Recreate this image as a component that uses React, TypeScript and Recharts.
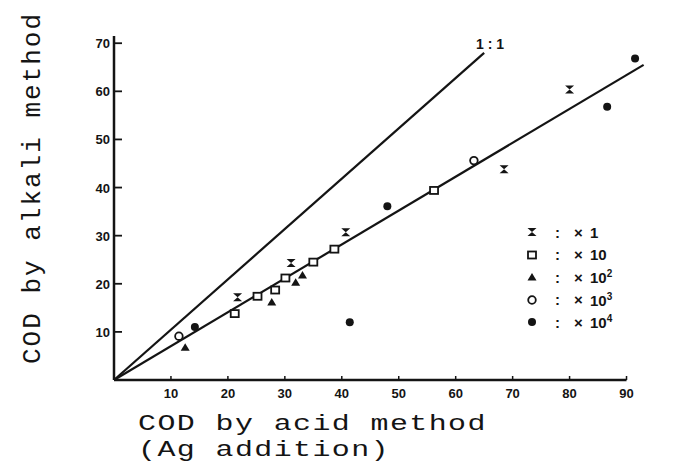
import React from 'react';
import {
  ScatterChart,
  Scatter,
  XAxis,
  YAxis,
  ReferenceLine,
  Legend,
  Label,
} from 'recharts';

// values (COD, acid vs alkali method)
const X1_ACID = [21.7, 31.1, 40.7, 68.5, 80.0];
const X1_ALKALI = [17.2, 24.3, 30.7, 43.8, 60.4];

const X10_ACID = [21.2, 25.2, 28.3, 30.1, 35.0, 38.7, 56.2];
const X10_ALKALI = [13.8, 17.4, 18.7, 21.2, 24.5, 27.2, 39.4];

const X100_ACID = [12.5, 27.7, 31.9, 33.1];
const X100_ALKALI = [6.8, 16.2, 20.3, 21.8];

const X1000_ACID = [11.4, 63.2];
const X1000_ALKALI = [9.1, 45.6];

const X10000_ACID = [14.2, 41.4, 48.0, 86.6, 91.5];
const X10000_ALKALI = [11.0, 12.0, 36.1, 56.8, 66.8];

const MULT_BASE = ['1', '10', '10', '10', '10'];
const MULT_EXP = ['', '', '2', '3', '4'];

const X_TICKS = [10, 20, 30, 40, 50, 60, 70, 80, 90];
const Y_TICKS = [10, 20, 30, 40, 50, 60, 70];

// 1:1 line and fitted line, end points
const ONE_TO_ONE = [
  { x: 0, y: 0 },
  { x: 65, y: 68 },
];
const FIT_LINE = [
  { x: 0, y: 0 },
  { x: 93, y: 65.5 },
];
const X_AXIS_SPAN = [
  { x: 0, y: 0 },
  { x: 90, y: 0 },
];

const INK = '#141414';

const zip = (xs: number[], ys: number[]) => xs.map((x, i) => ({ x, y: ys[i] }));

const Bowtie = ({ cx, cy }: any) => (
  <polygon
    points={`${cx - 4.5},${cy - 4} ${cx + 4.5},${cy - 4} ${cx - 4.5},${cy + 4} ${cx + 4.5},${cy + 4}`}
    fill={INK}
  />
);
const OpenSquare = ({ cx, cy }: any) => (
  <rect x={cx - 4} y={cy - 3.5} width={8} height={7} fill="#fff" stroke={INK} strokeWidth={1.8} />
);
const FilledTriangle = ({ cx, cy }: any) => (
  <polygon points={`${cx},${cy - 4} ${cx + 4.5},${cy + 3.5} ${cx - 4.5},${cy + 3.5}`} fill={INK} />
);
const OpenCircle = ({ cx, cy }: any) => (
  <circle cx={cx} cy={cy} r={3.8} fill="#fff" stroke={INK} strokeWidth={1.8} />
);
const FilledCircle = ({ cx, cy }: any) => <circle cx={cx} cy={cy} r={4} fill={INK} />;

const SHAPES = [Bowtie, OpenSquare, FilledTriangle, OpenCircle, FilledCircle];

const tickFont = {
  fontFamily: '"Liberation Sans", Arial, sans-serif',
  fontWeight: 700,
  fontSize: 13,
  fill: INK,
};

const XTick = ({ x, y, payload }: any) => (
  <g>
    <line x1={x} y1={y} x2={x} y2={y - 4} stroke={INK} strokeWidth={1.5} />
    <text x={x} y={y + 18} textAnchor="middle" {...tickFont}>
      {payload.value}
    </text>
  </g>
);

const YTick = ({ x, y, payload }: any) => (
  <g>
    <line x1={x} y1={y} x2={x + 8} y2={y} stroke={INK} strokeWidth={1.8} />
    <text x={x - 4} y={y + 5} textAnchor="end" {...tickFont}>
      {payload.value}
    </text>
  </g>
);

const monoLabel = {
  fontFamily: '"Liberation Mono", "DejaVu Sans Mono", monospace',
  fill: INK,
};

// typewriter lettering in the scan is wide, so stretch it horizontally
const XTitle = () => (
  <g transform="translate(138, 0) scale(1.36, 1)">
    <text x={0} y={430} fontSize={22} letterSpacing={1.05} {...monoLabel}>
      COD by acid method
    </text>
    <text x={0} y={456} fontSize={22} letterSpacing={1.05} {...monoLabel}>
      (Ag addition)
    </text>
  </g>
);

const YTitle = () => (
  <text
    x={40}
    y={188}
    textAnchor="middle"
    fontSize={26}
    letterSpacing={2}
    transform="rotate(-90, 40, 188)"
    {...monoLabel}
  >
    COD by alkali method
  </text>
);

const LegendBox = () => (
  <div style={{ fontFamily: '"Liberation Sans", Arial, sans-serif', fontWeight: 700, fontSize: 15, color: INK }}>
    {MULT_BASE.map((base, i) => {
      const Shape = SHAPES[i];
      return (
        <div key={i} style={{ display: 'flex', alignItems: 'center', height: 22.5 }}>
          <svg width={14} height={12} style={{ marginRight: 16 }}>
            <Shape cx={7} cy={6} />
          </svg>
          <span style={{ display: 'inline-block', width: 19 }}>:</span>
          <span style={{ display: 'inline-block', width: 16 }}>×</span>
          <span>
            {base}
            {MULT_EXP[i] && <sup style={{ fontSize: 10 }}>{MULT_EXP[i]}</sup>}
          </span>
        </div>
      );
    })}
  </div>
);

export default function App() {
  const series = [
    zip(X1_ACID, X1_ALKALI),
    zip(X10_ACID, X10_ALKALI),
    zip(X100_ACID, X100_ALKALI),
    zip(X1000_ACID, X1000_ALKALI),
    zip(X10000_ACID, X10000_ALKALI),
  ];
  return (
    <div style={{ position: 'absolute', left: 0, top: 0, background: '#fff' }}>
      <ScatterChart width={696} height={462} margin={{ top: 36, right: 41, left: 0, bottom: 0 }}>
        <XAxis
          type="number"
          dataKey="x"
          domain={[0, 95]}
          ticks={X_TICKS}
          interval={0}
          height={82}
          axisLine={false}
          tickLine={false}
          tickSize={0}
          tickMargin={0}
          tick={<XTick />}
        >
          <Label content={<XTitle />} />
        </XAxis>
        <YAxis
          type="number"
          dataKey="y"
          domain={[0, 71.5]}
          ticks={Y_TICKS}
          interval={0}
          width={114}
          axisLine={{ stroke: INK, strokeWidth: 2.5 }}
          tickLine={false}
          tickSize={0}
          tickMargin={0}
          tick={<YTick />}
        >
          <Label content={<YTitle />} />
        </YAxis>
        <ReferenceLine segment={X_AXIS_SPAN} stroke={INK} strokeWidth={2.5} ifOverflow="visible" />
        <ReferenceLine
          segment={ONE_TO_ONE}
          stroke={INK}
          strokeWidth={2.2}
          ifOverflow="visible"
          label={{
            content: () => (
              <text x={490} y={49} textAnchor="middle" {...tickFont} fontSize={14}>
                1 : 1
              </text>
            ),
          }}
        />
        <ReferenceLine segment={FIT_LINE} stroke={INK} strokeWidth={2.2} ifOverflow="visible" />
        {series.map((pts, i) => (
          <Scatter
            key={i}
            name={`x${MULT_BASE[i]}${MULT_EXP[i]}`}
            data={pts}
            shape={SHAPES[i]}
            isAnimationActive={false}
          />
        ))}
        <Legend
          layout="vertical"
          align="center"
          verticalAlign="middle"
          content={<LegendBox />}
          wrapperStyle={{ position: 'absolute', left: 525, top: 221, width: 110 }}
        />
      </ScatterChart>
    </div>
  );
}
